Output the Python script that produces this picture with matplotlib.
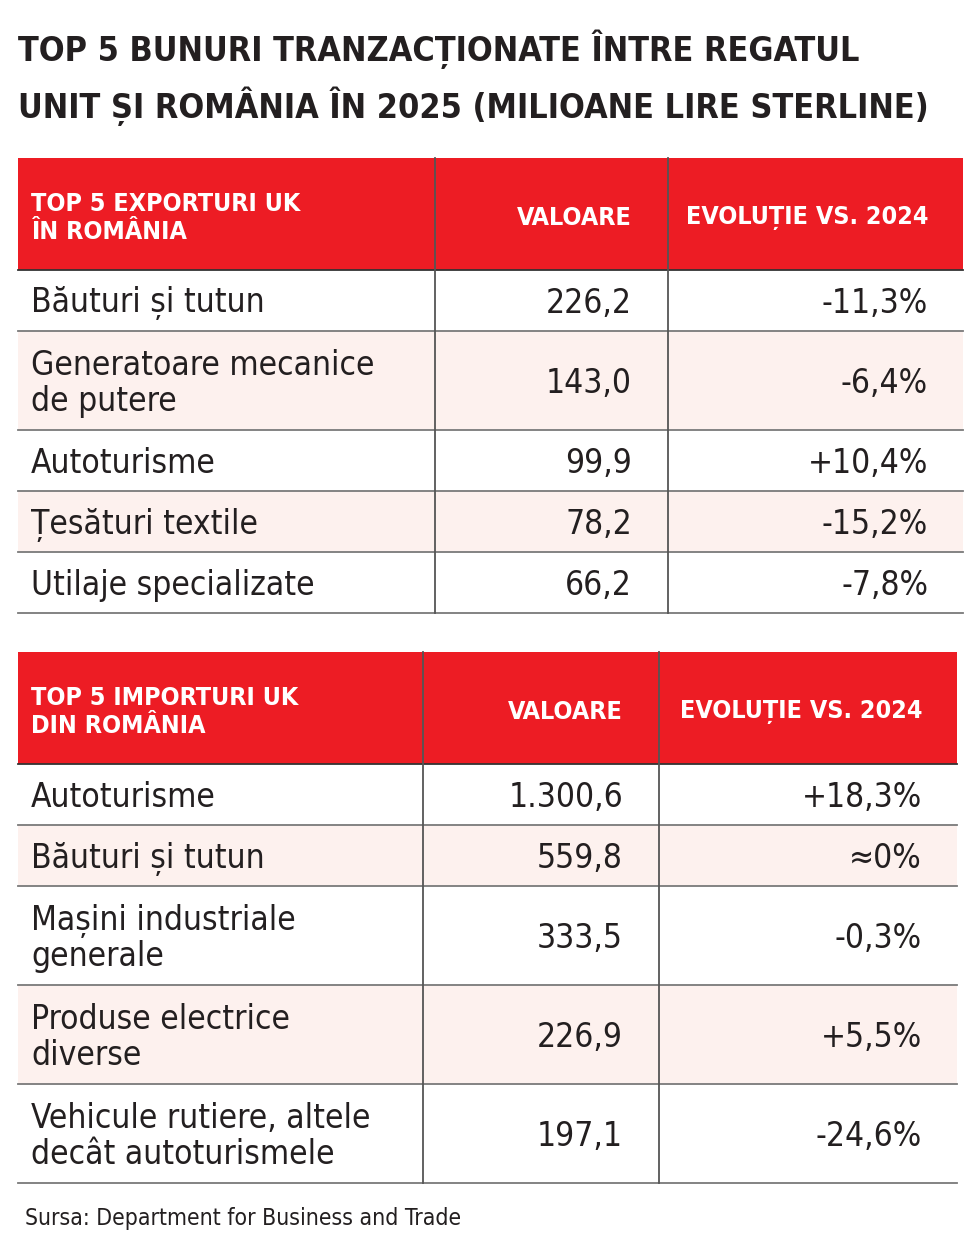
import numpy as np
import matplotlib
matplotlib.use("Agg")
import matplotlib.pyplot as plt
from matplotlib.patches import Rectangle

plt.rcParams['font.family'] = ['DejaVu Sans']
plt.rcParams['font.stretch'] = 'condensed'

title_lines = ["TOP 5 BUNURI TRANZACȚIONATE ÎNTRE REGATUL",
               "UNIT ȘI ROMÂNIA ÎN 2025 (MILIOANE LIRE STERLINE)"]
source = "Sursa: Department for Business and Trade"

col_val = "VALOARE"
col_evol = "EVOLUȚIE VS. 2024"

exp_head = "TOP 5 EXPORTURI UK\nÎN ROMÂNIA"
exp_names = ["Băuturi și tutun", "Generatoare mecanice\nde putere", "Autoturisme",
             "Țesături textile", "Utilaje specializate"]
exp_vals = ["226,2", "143,0", "99,9", "78,2", "66,2"]
exp_evol = ["-11,3%", "-6,4%", "+10,4%", "-15,2%", "-7,8%"]

imp_head = "TOP 5 IMPORTURI UK\nDIN ROMÂNIA"
imp_names = ["Autoturisme", "Băuturi și tutun", "Mașini industriale\ngenerale",
             "Produse electrice\ndiverse", "Vehicule rutiere, altele\ndecât autoturismele"]
imp_vals = ["1.300,6", "559,8", "333,5", "226,9", "197,1"]
imp_evol = ["+18,3%", "≈0%", "-0,3%", "+5,5%", "-24,6%"]

RED = "#ed1c24"
PINK = "#fdf1ee"
TXT = "#231f20"
GRID = "#7a7a7a"

fig = plt.figure(figsize=(9.72, 12.45), dpi=100)
ax = fig.add_axes([0, 0, 1, 1])
ax.set_xlim(0, 972)
ax.set_ylim(1245, 0)
ax.axis('off')

for k, line in enumerate(title_lines):
    ax.text(18, 49 + 57 * k, line, fontsize=24.5, fontweight='bold', color=TXT,
            va='center', ha='left')


def draw_table(top, left, right, c1, c2, head, names, vals, evol):
    head_h = 112
    ax.add_patch(Rectangle((left, top), right - left, head_h, color=RED, lw=0))
    ax.text(left + 13, top + head_h / 2 + 4, head, color='white', fontsize=18,
            fontweight='bold', va='center', ha='left', linespacing=1.25)
    ax.text(c2 - 36, top + head_h / 2 + 4, col_val, color='white', fontsize=18,
            fontweight='bold', va='center', ha='right')
    ax.text(right - 35, top + head_h / 2 + 4, col_evol, color='white', fontsize=18,
            fontweight='bold', va='center', ha='right')
    y = top + head_h
    ax.plot([left, right], [y, y], color='#333333', lw=1.3)
    for i, (n, v, e) in enumerate(zip(names, vals, evol)):
        h = 61 if '\n' not in n else 99
        if i % 2 == 1:
            ax.add_patch(Rectangle((left, y), right - left, h, color=PINK, lw=0))
        yc = y + h / 2 + 3
        ax.text(left + 13, yc, n, fontsize=24, color=TXT, va='center', ha='left',
                linespacing=1.1)
        ax.text(c2 - 36, yc, v, fontsize=24, color=TXT, va='center', ha='right')
        ax.text(right - 35, yc, e, fontsize=24, color=TXT, va='center', ha='right')
        y += h
        ax.plot([left, right], [y, y], color=GRID, lw=1.3)
    for cx in (c1, c2):
        ax.plot([cx, cx], [top, y], color='#555555', lw=1.3)
    return y


draw_table(158, 18, 963, 435, 668, exp_head, exp_names, exp_vals, exp_evol)
draw_table(652, 18, 957, 423, 659, imp_head, imp_names, imp_vals, imp_evol)

ax.text(25, 1218, source, fontsize=16.5, color=TXT, va='center', ha='left')

fig.savefig("out.png", dpi=100)
